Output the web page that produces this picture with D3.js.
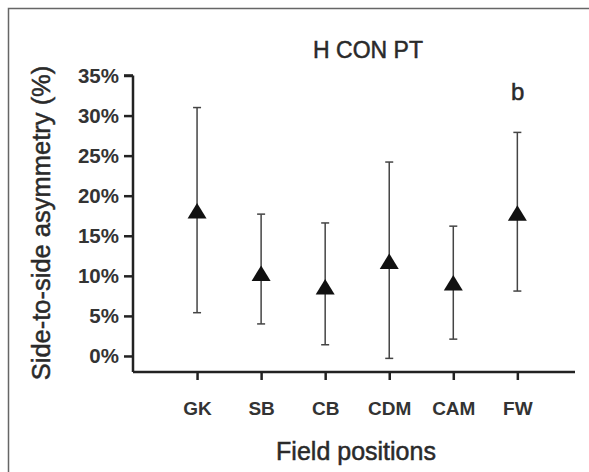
<!DOCTYPE html>
<html>
<head>
<meta charset="utf-8">
<script src="https://cdn.jsdelivr.net/npm/d3@7"></script>
<style>
    body { margin: 0; background: #fff; }
    text { font-family: Arial, "Liberation Sans", sans-serif; }
</style>
</head>
<body>
<div data-chart></div>
<script>
let positions = ['GK', 'SB', 'CB', 'CDM', 'CAM', 'FW']
let means = [18.1, 10.3, 8.6, 11.8, 9.1, 17.8]
let upper = [31.0, 17.7, 16.6, 24.2, 16.2, 27.9]
let lower = [5.4, 4.0, 1.4, -0.3, 2.1, 8.1]
let yTicks = [0, 5, 10, 15, 20, 25, 30, 35]

let width = 589
let height = 472

let svg = d3.select('[data-chart]').append('svg')
    .attr('width', width)
    .attr('height', height)

// frame (only top and left edges are visible in the crop)
svg.append('path')
    .attr('d', 'M8.5,' + height + 'V8.5H' + width)
    .attr('fill', 'none')
    .attr('stroke', '#666')
    .attr('stroke-width', 1.5)

let x = d3.scaleLinear().domain([0, 6.9]).range([133, 575])
let y = d3.scaleLinear().domain([-2, 35]).range([372, 75.5])

let yAxis = svg.append('g')
    .attr('transform', 'translate(133,0)')
    .call(d3.axisLeft(y).tickValues(yTicks).tickSize(9).tickPadding(5)
        .tickFormat(function (d) { return d + '%' }))

yAxis.select('.domain')
    .attr('d', 'M0,' + y(35) + 'H-9M0,' + y(35) + 'V' + y(-2))

let xAxis = svg.append('g')
    .attr('transform', 'translate(0,372)')
    .call(d3.axisBottom(x).tickValues(d3.range(1, 7)).tickSize(8).tickPadding(22)
        .tickFormat(function (d) { return positions[d - 1] }))

xAxis.select('.domain')
    .attr('d', 'M' + x(0) + ',0H' + x(6.9))

svg.selectAll('.domain, .tick line')
    .attr('stroke', '#222')
    .attr('stroke-width', 2.5)

yAxis.selectAll('.tick text')
    .attr('font-size', 20.5)
    .attr('font-weight', 'bold')
    .attr('fill', '#333')

xAxis.selectAll('.tick text')
    .attr('font-size', 19)
    .attr('font-weight', 'bold')
    .attr('fill', '#333')

let g = svg.append('g')

let bars = g.selectAll('g.bar')
    .data(positions)
    .enter().append('g')
    .attr('class', 'bar')
    .attr('stroke', '#444')
    .attr('stroke-width', 1.5)

bars.append('line')
    .attr('x1', function (d, i) { return x(i + 1) })
    .attr('x2', function (d, i) { return x(i + 1) })
    .attr('y1', function (d, i) { return y(upper[i]) })
    .attr('y2', function (d, i) { return y(lower[i]) })

bars.append('line')
    .attr('x1', function (d, i) { return x(i + 1) - 4 })
    .attr('x2', function (d, i) { return x(i + 1) + 4 })
    .attr('y1', function (d, i) { return y(upper[i]) })
    .attr('y2', function (d, i) { return y(upper[i]) })

bars.append('line')
    .attr('x1', function (d, i) { return x(i + 1) - 4 })
    .attr('x2', function (d, i) { return x(i + 1) + 4 })
    .attr('y1', function (d, i) { return y(lower[i]) })
    .attr('y2', function (d, i) { return y(lower[i]) })

g.selectAll('path.mark')
    .data(means)
    .enter().append('path')
    .attr('class', 'mark')
    .attr('d', 'M0,-8L9.5,7.5H-9.5Z')
    .attr('fill', '#111')
    .attr('transform', function (d, i) {
        return 'translate(' + x(i + 1) + ',' + y(d) + ')'
    })

// the scanned labels look heavier than plain regular weight
function label(sel) {
    return sel.attr('fill', '#2a2a2a')
        .attr('stroke', '#2a2a2a')
        .attr('stroke-width', 0.5)
}

svg.append('text')
    .attr('x', 368)
    .attr('y', 58)
    .attr('text-anchor', 'middle')
    .attr('font-size', 23)
    .call(label)
    .text('H CON PT')

svg.append('text')
    .attr('x', 511)
    .attr('y', 100)
    .attr('font-size', 24)
    .call(label)
    .text('b')

svg.append('text')
    .attr('transform', 'translate(50,223)rotate(-90)')
    .attr('text-anchor', 'middle')
    .attr('font-size', 25.5)
    .call(label)
    .text('Side-to-side asymmetry (%)')

svg.append('text')
    .attr('x', 356)
    .attr('y', 460)
    .attr('text-anchor', 'middle')
    .attr('font-size', 25)
    .call(label)
    .text('Field positions')
</script>
</body>
</html>
